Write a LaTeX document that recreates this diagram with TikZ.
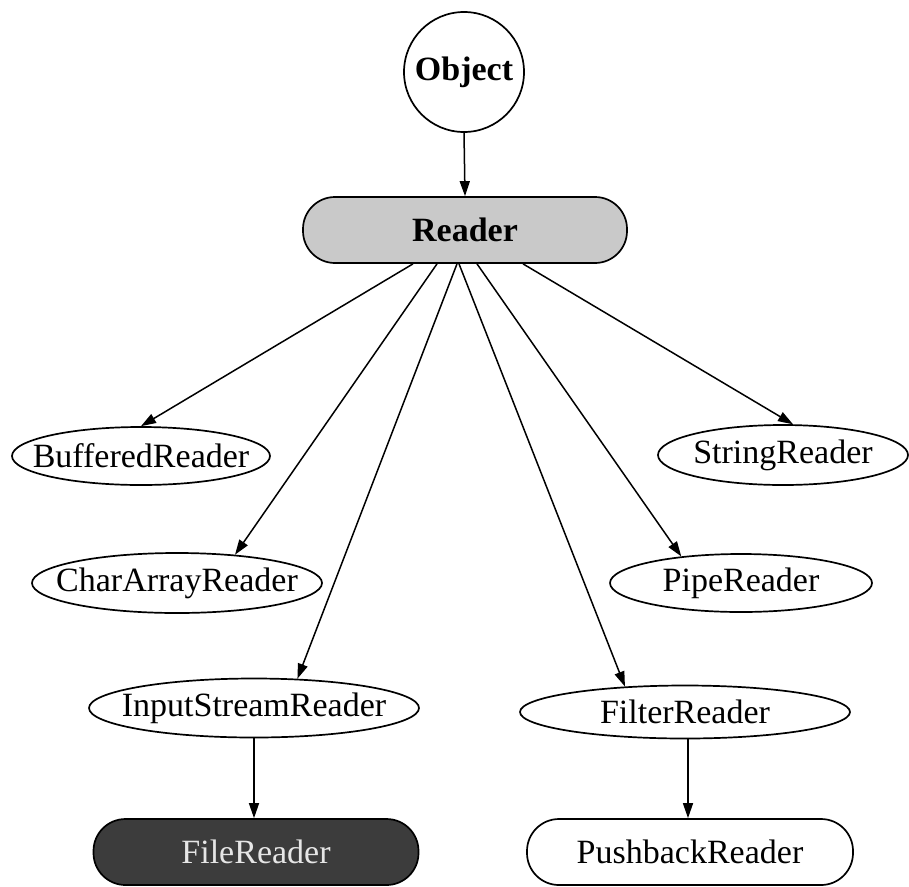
\documentclass[tikz,border=0pt]{standalone}
\usepackage{fontspec}
\setmainfont{Liberation Serif}
\usetikzlibrary{shapes.geometric,arrows.meta}

\definecolor{readergray}{HTML}{C9C9C9}
\definecolor{filedark}{HTML}{3C3C3C}
\definecolor{filetext}{HTML}{E6E6E6}

% zero-width label so the ellipse size is set by its minimum dimensions only
\newcommand{\lbl}[1]{\makebox[0pt][c]{#1}}

\tikzset{
  base/.style={draw=black, line width=1.7pt, inner sep=0pt,
    font=\fontsize{34}{40}\selectfont},
  cls/.style={base, ellipse},
  roundbox/.style={base, rectangle, rounded corners=32pt,
    minimum height=66pt},
  inherit/.style={line width=1.5pt, -{Triangle[length=15pt,width=10pt]}},
}

\begin{document}
\begin{tikzpicture}[x=1pt, y=-1pt]
  \useasboundingbox (0,0) rectangle (909,886);

  % root of the hierarchy
  \node[base, circle, minimum size=120pt, font=\fontsize{34}{40}\selectfont\bfseries]
    (obj) at (464,72) {Object};
  \node[roundbox, fill=readergray, minimum width=324pt, font=\fontsize{34}{40}\selectfont\bfseries]
    (reader) at (465,230) {Reader};

  % direct subclasses of Reader
  \node[cls, minimum width=258pt, minimum height=58pt] (buf)  at (141,456) {\lbl{BufferedReader}};
  \node[cls, minimum width=290pt, minimum height=60pt] (char) at (177,583) {\lbl{CharArrayReader}};
  \node[cls, minimum width=330pt, minimum height=59pt] (isr)  at (254,708) {\lbl{InputStreamReader}};
  \node[cls, minimum width=250pt, minimum height=60pt] (str)  at (783,455) {\lbl{StringReader}};
  \node[cls, minimum width=262pt, minimum height=58pt] (pipe) at (741,583) {\lbl{PipeReader}};
  \node[cls, minimum width=330pt, minimum height=53pt] (filt) at (685,712) {\lbl{FilterReader}};

  % second-level subclasses
  \node[roundbox, fill=filedark, text=filetext, minimum width=325pt] (file) at (256,852) {FileReader};
  \node[roundbox, fill=white, minimum width=326pt] (push) at (690,852) {PushbackReader};

  % inheritance arrows
  \draw[inherit] (obj.south) -- (reader.north);
  \draw[inherit] ([xshift=-52pt]reader.south) -- (buf.north);
  \draw[inherit] ([xshift=-28pt]reader.south) -- (char.26);
  \draw[inherit] ([xshift=-8pt]reader.south)  -- (isr.34);
  \draw[inherit] ([xshift=-6pt]reader.south)  -- (filt.157.6);
  \draw[inherit] ([xshift=12pt]reader.south)  -- (pipe.156.3);
  \draw[inherit] ([xshift=58pt]reader.south)  -- (str.72);
  \draw[inherit] (isr.south) -- (isr.south |- file.north);
  \draw[inherit] ([xshift=3pt]filt.south) -- ([xshift=3pt]filt.south |- push.north);
\end{tikzpicture}
\end{document}
